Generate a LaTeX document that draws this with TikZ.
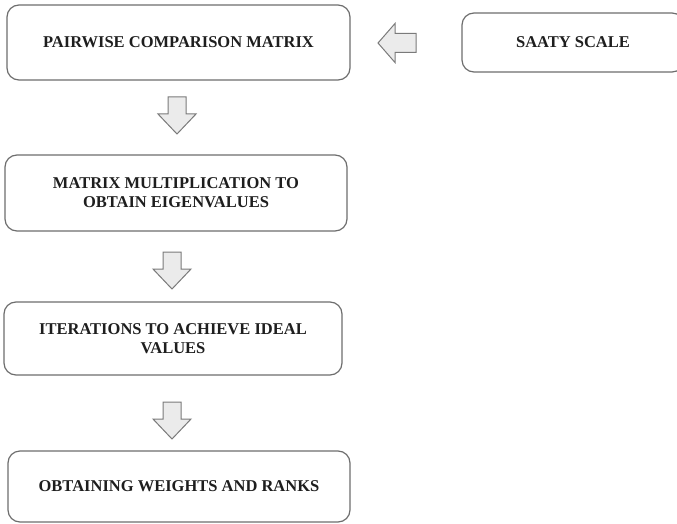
\documentclass[tikz,border=0pt]{standalone}
\usepackage{fontspec}
\setmainfont{Liberation Serif}
\definecolor{boxline}{HTML}{6E6E6E}
\definecolor{arrline}{HTML}{7A7A7A}
\definecolor{arrfill}{HTML}{EBEBEB}
\definecolor{txt}{HTML}{1E1E1E}
\tikzset{
  stepbox/.style={draw=boxline, line width=1.2pt, rounded corners=12pt, fill=white,
    align=center, inner sep=0pt, text=txt,
    font=\fontsize{16.5}{19}\selectfont\bfseries},
  blockarrow/.style={draw=arrline, line width=1pt, fill=arrfill, line join=miter},
  pics/downarr/.style={code={
    \draw[blockarrow] (-9,0) -- (9,0) -- (9,17) -- (19,17) -- (0,37) -- (-19,17) -- (-9,17) -- cycle;
  }},
  pics/leftarr/.style={code={
    \draw[blockarrow] (0,0) -- (17,-19.5) -- (17,-9.5) -- (38,-9.5) -- (38,9.5) -- (17,9.5) -- (17,19.5) -- cycle;
  }}
}
\begin{document}
\begin{tikzpicture}[x=1pt, y=-1pt]
\clip (0,0) rectangle (677,524);
\fill[white] (0,0) rectangle (677,524);
\node[stepbox, minimum width=343pt, minimum height=75pt] (b1) at (178.5,42.5) {PAIRWISE COMPARISON MATRIX};
\node[stepbox, minimum width=222pt, minimum height=59pt] (saaty) at (573,42.5) {SAATY SCALE};
\node[stepbox, minimum width=342pt, minimum height=76pt] (b2) at (176,193) {MATRIX MULTIPLICATION TO\\OBTAIN EIGENVALUES};
\node[stepbox, minimum width=338pt, minimum height=73pt] (b3) at (173,338.5) {ITERATIONS TO ACHIEVE IDEAL\\VALUES};
\node[stepbox, minimum width=342pt, minimum height=71pt] (b4) at (179,486.5) {OBTAINING WEIGHTS AND RANKS};
\pic at (378,43) {leftarr};
\pic at (177,97) {downarr};
\pic at (172,252) {downarr};
\pic at (172,402) {downarr};
\end{tikzpicture}
\end{document}
